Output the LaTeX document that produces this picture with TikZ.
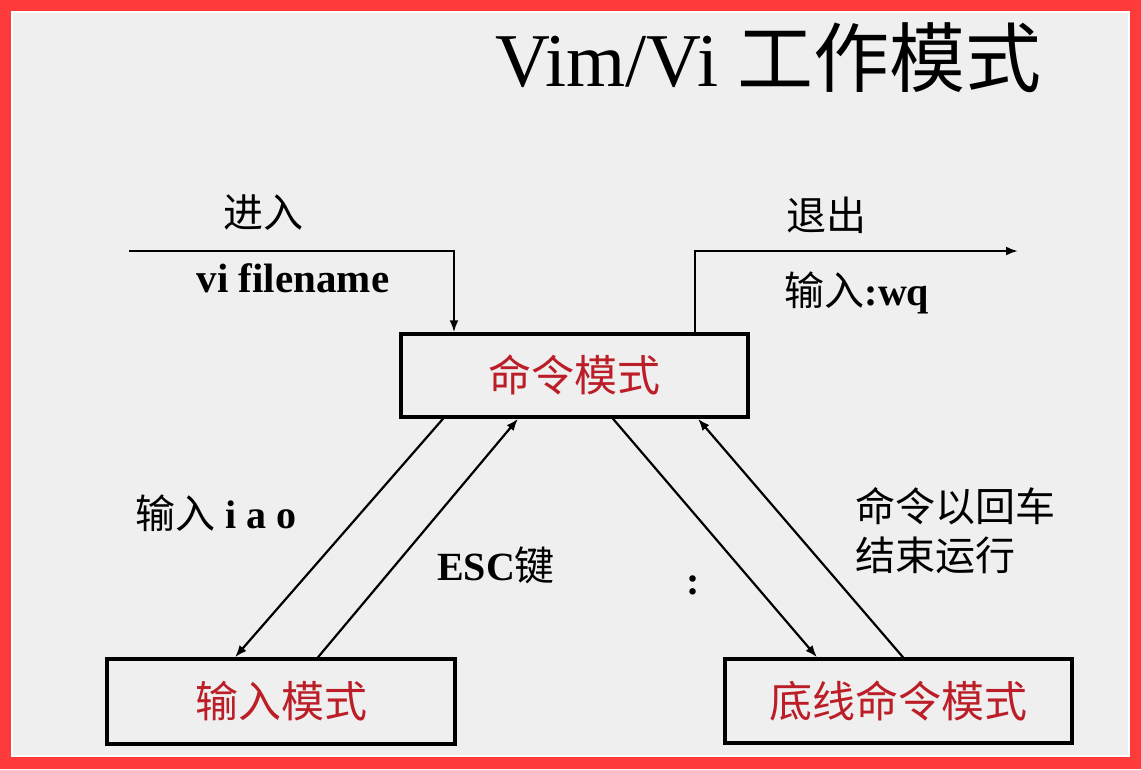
\documentclass[tikz,border=0pt]{standalone}
\usepackage{fontspec}
\setmainfont{Liberation Serif}
\newfontfamily\cjk{Noto Sans CJK SC}
\usetikzlibrary{arrows.meta}
\definecolor{bg}{RGB}{239,239,239}
\definecolor{framered}{RGB}{255,58,58}
\definecolor{modered}{RGB}{188,30,40}
\begin{document}
\begin{tikzpicture}[x=1pt,y=-1pt,
  modebox/.style={draw=black, line width=3.5pt, inner sep=0pt, text=modered,
    font=\cjk\fontsize{43}{48}\selectfont},
  lbl/.style={inner sep=0pt, text=black, font=\fontsize{40}{48}\selectfont},
  conn/.style={draw=black, line width=2.2pt},
  arr/.style={conn, -{Latex[length=12pt,width=9pt]}}]
\useasboundingbox (0,0) rectangle (1141,769);
\fill[framered] (0,0) rectangle (1141,769);
\fill[white] (11,11) rectangle (1130,757);
\fill[bg] (13,13) rectangle (1128,755);

% title
\node[inner sep=0pt, anchor=base west, font=\fontsize{76}{80}\selectfont] (title) at (495,86) {Vim/Vi {\cjk 工作模式}};

% mode boxes
\node[modebox, minimum width=347pt, minimum height=83pt] (cmd) at (574.5,375.5) {命令模式};
\node[modebox, minimum width=348pt, minimum height=85pt] (inp) at (281,701.5) {输入模式};
\node[modebox, minimum width=347pt, minimum height=84pt] (bot) at (898.5,701) {底线命令模式};

% labels
\node[lbl] (enter) at (263,213) {\cjk 进入};
\node[lbl, font=\fontsize{41}{48}\selectfont\bfseries] (vifn) at (293,278) {vi filename};
\node[lbl] (exit) at (826,215) {\cjk 退出};
\node[lbl] (wq) at (857,293) {{\cjk 输入}\textbf{:wq}};
\node[lbl] (iao) at (216,513) {{\cjk 输入} \textbf{i a o}};
\node[lbl] (esc) at (496,565) {\textbf{ESC}{\cjk 键}};
\node[lbl] (colon) at (693,585) {\textbf{:}};
\node[lbl, align=left, anchor=west, font=\cjk\fontsize{40}{49}\selectfont] (runtxt) at (855,530.5) {命令以回车\\结束运行};

% enter / exit connectors
\coordinate (in0) at (129,251);
\coordinate (entryc) at (454,251);
\coordinate (exitc) at (695,251);
\coordinate (out1) at (1018,251);
\draw[arr] (in0) -- (entryc) -- (entryc |- cmd.north);
\draw[arr] (exitc |- cmd.north) -- (exitc) -- (out1);

% mode transitions
\draw[arr] ([xshift=-131.5pt]cmd.south) -- ([xshift=-46pt]inp.north);
\draw[arr] ([xshift=37pt]inp.north) -- ([xshift=-56.5pt]cmd.south);
\draw[arr] ([xshift=38.5pt]cmd.south) -- ([xshift=-81.5pt]bot.north);
\draw[arr] ([xshift=4.5pt]bot.north) -- ([xshift=123.5pt]cmd.south);
\end{tikzpicture}
\end{document}
